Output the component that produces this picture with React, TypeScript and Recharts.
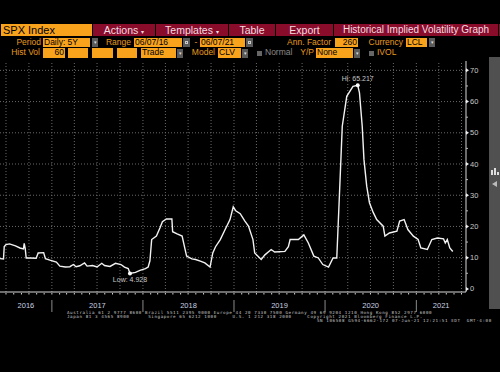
import React from 'react';
import { LineChart, Line, XAxis, YAxis, CartesianGrid, ReferenceDot, ReferenceLine } from 'recharts';

// ---- data ----
const dates = [
  '2016-06-07', '2016-06-21', '2016-06-24', '2016-07-01', '2016-07-15', '2016-08-08', '2016-08-26', '2016-09-09',
  '2016-09-12', '2016-09-16', '2016-09-20', '2016-10-05', '2016-10-30', '2016-11-07', '2016-11-29', '2016-12-06',
  '2016-12-24', '2017-01-19', '2017-02-02', '2017-02-24', '2017-03-14', '2017-03-28', '2017-04-08', '2017-04-23',
  '2017-05-12', '2017-05-22', '2017-06-13', '2017-07-01', '2017-07-20', '2017-07-31', '2017-08-22', '2017-09-13',
  '2017-10-05', '2017-10-19', '2017-11-03', '2017-11-10', '2017-12-02', '2017-12-20', '2018-01-11', '2018-01-22',
  '2018-01-29', '2018-02-05', '2018-02-24', '2018-03-10', '2018-03-20', '2018-04-05', '2018-04-27', '2018-04-30',
  '2018-05-18', '2018-06-07', '2018-06-18', '2018-06-25', '2018-07-16', '2018-07-31', '2018-08-19', '2018-09-06',
  '2018-09-27', '2018-10-08', '2018-10-19', '2018-11-07', '2018-11-25', '2018-12-16', '2018-12-29', '2019-01-08',
  '2019-01-26', '2019-02-13', '2019-02-28', '2019-03-18', '2019-03-25', '2019-04-20', '2019-05-05', '2019-05-30',
  '2019-06-13', '2019-07-24', '2019-08-07', '2019-08-14', '2019-09-16', '2019-10-08', '2019-10-26', '2019-11-17',
  '2019-12-05', '2019-12-23', '2020-01-15', '2020-02-02', '2020-02-17', '2020-02-28', '2020-03-10', '2020-03-28',
  '2020-04-22', '2020-05-11', '2020-05-18', '2020-05-29', '2020-06-05', '2020-06-16', '2020-06-27', '2020-07-12',
  '2020-07-26', '2020-08-21', '2020-08-28', '2020-09-15', '2020-10-15', '2020-10-26', '2020-11-13', '2020-11-28',
  '2020-12-20', '2021-01-08', '2021-01-19', '2021-02-14', '2021-03-04', '2021-03-26', '2021-04-20', '2021-04-27',
  '2021-05-05', '2021-05-15', '2021-05-27',
];
const vols = [
  9.7, 9.6, 13.6, 14.2, 14.4, 13.8, 13.1, 12.8,
  14.6, 13.0, 9.9, 9.9, 9.8, 11.5, 11.6, 9.7,
  9.2, 8.6, 7.3, 7.0, 7.1, 7.8, 7.1, 7.4,
  8.3, 7.3, 7.5, 7.0, 8.2, 7.5, 7.2, 8.2,
  7.8, 7.0, 6.5, 4.928, 5.3, 5.9, 6.5, 7.0,
  9.0, 15.8, 16.9, 19.5, 21.5, 22.4, 22.4, 18.3,
  17.6, 16.9, 13.0, 10.5, 9.6, 9.4, 8.9, 8.3,
  7.0, 11.5, 13.5, 15.8, 18.8, 22.2, 26.3, 25.0,
  24.1, 21.8, 20.1, 15.8, 11.5, 9.4, 10.9, 12.6,
  11.8, 12.0, 13.5, 15.8, 15.8, 17.3, 14.7, 10.5,
  9.9, 7.8, 7.0, 9.9, 9.9, 30.8, 52.1, 61.7,
  64.9, 65.217, 62.8, 52.1, 41.4, 32.9, 27.6, 24.5,
  22.2, 20.1, 16.9, 17.9, 18.5, 21.7, 22.2, 19.0,
  16.9, 15.8, 13.1, 12.6, 15.8, 16.3, 16.0, 14.7,
  15.8, 13.1, 12.0,
];
const yearLabels = ['2016', '2017', '2018', '2019', '2020', '2021'];
const yTicks = [0, 5, 10, 15, 20, 25, 30, 35, 40, 45, 50, 55, 60, 65, 70];
const gridValues = [10, 20, 30, 40, 50, 60, 70];
const hiDate = '2020-05-11';
const hiValue = 65.217;
const loDate = '2017-11-10';
const loValue = 4.928;
const rangeStart = '2016-06-07';
const rangeEnd = '2021-07-19';

// ---- derived ----
const ts = (d: string) => Date.parse(d + 'T00:00:00Z');
const data = dates.map((d, i) => ({ t: ts(d), v: vols[i] }));
const domainStart = ts(rangeStart);
const domainEnd = ts(rangeEnd);

const monthTicks: number[] = [];
const quarterTicks: number[] = [];
for (let y = 2016; y <= 2021; y++) {
  for (let m = 0; m < 12; m++) {
    const t = Date.UTC(y, m, 1);
    if (t > domainStart && t < domainEnd) {
      monthTicks.push(t);
      if (m % 3 === 0) quarterTicks.push(t);
    }
  }
}
const yearStarts = yearLabels.slice(1).map((y) => Date.UTC(Number(y), 0, 1));
const yearMids = yearLabels.map((y) => {
  const a = Math.max(Date.UTC(Number(y), 0, 1), domainStart);
  const b = Math.min(Date.UTC(Number(y) + 1, 0, 1), domainEnd);
  return Math.round((a + b) / 2) + 1;
});
const bottomTicks = [...monthTicks, ...yearMids].sort((a, b) => a - b);

const ORANGE = '#f9a31c';
const RED = '#8a0c2b';
const LABEL = '#e89a1c';
const FONT = '"Liberation Sans", Arial, sans-serif';
const GRID = '#6a6a6a';

function BottomTick(props: any) {
  const { x, y, payload } = props;
  const v = payload.value;
  if (yearMids.includes(v)) {
    const yr = new Date(v).getUTCFullYear();
    return (
      <text x={x} y={y + 15.5} textAnchor="middle" fill="#c8d0e0" fontSize={7.5} fontFamily={FONT}>
        {yr}
      </text>
    );
  }
  const isYear = yearStarts.includes(v);
  return (
    <g>
      <line x1={x} x2={x} y1={y + 1} y2={y + 2.5} stroke="#d0d0d0" strokeWidth={1} />
      {isYear && <line x1={x} x2={x} y1={y + 8} y2={y + 20} stroke="#8a8a8a" strokeWidth={1} />}
    </g>
  );
}

function VolTick(props: any) {
  const { x, y, payload } = props;
  const v = payload.value;
  if (v % 10 !== 0) {
    return <line x1={x} x2={x + 2} y1={y} y2={y} stroke="#bbb" strokeWidth={1} />;
  }
  return (
    <g>
      <polygon points={`${x},${y - 2} ${x + 3},${y} ${x},${y + 2}`} fill="#eee" />
      <text x={x + 4} y={y} dy={2.6} textAnchor="start" fill="#c8c8c8" fontSize={7.5} fontFamily={FONT}>
        {v}
      </text>
    </g>
  );
}

type BoxProps = {
  x: number; y: number; w: number; h: number; bg?: string; color?: string;
  size?: number; align?: 'left' | 'right' | 'center'; children?: React.ReactNode; pad?: number;
};
function Box({ x, y, w, h, bg = 'transparent', color = '#000', size = 9, align = 'left', children, pad = 1 }: BoxProps) {
  return (
    <div
      style={{
        position: 'absolute', left: x, top: y, width: w, height: h, background: bg, color,
        fontSize: size, lineHeight: h + 'px', textAlign: align, fontFamily: FONT,
        whiteSpace: 'nowrap', overflow: 'hidden', boxSizing: 'border-box',
        paddingLeft: pad, paddingRight: pad,
      }}
    >
      {children}
    </div>
  );
}

function Drop({ x, y, h = 9 }: { x: number; y: number; h?: number }) {
  return (
    <Box x={x} y={y} w={6} h={h} bg="#5a5a5a" color="#ddd" size={5} align="center" pad={0}>▾</Box>
  );
}
function Cal({ x, y }: { x: number; y: number }) {
  return (
    <div style={{ position: 'absolute', left: x, top: y, width: 7, height: 9, background: '#5a5a5a' }}>
      <div style={{ position: 'absolute', left: 2, top: 3, width: 3, height: 3, border: '1px solid #ccc', boxSizing: 'border-box' }} />
    </div>
  );
}
function Check({ x, y }: { x: number; y: number }) {
  return <div style={{ position: 'absolute', left: x, top: y, width: 5, height: 5, background: '#666' }} />;
}

function FootLine({ x, y, text }: { x: number; y: number; text: string }) {
  return (
    <div
      style={{
        position: 'absolute', left: x, top: y, fontFamily: '"DejaVu Sans Mono", monospace',
        fontSize: 4.2, letterSpacing: 0.6, lineHeight: '4.2px', height: 4.2, color: '#c8c8c8', whiteSpace: 'pre',
      }}
    >
      {text}
    </div>
  );
}

export default function App() {
  const r1 = 24, r2 = 37.5, r3 = 48;
  return (
    <div style={{ position: 'absolute', left: 0, top: 0, width: 500, height: 372, background: '#000', overflow: 'hidden' }}>
      {/* row 1 */}
      <Box x={1} y={r1} w={91} h={12} bg={ORANGE} size={11} pad={2}>SPX Index</Box>
      <div style={{ position: 'absolute', left: 93, top: r1, width: 407, height: 12, background: RED }} />
      <Box x={93} y={r1} w={62} h={12} color="#f2dde2" size={10.5} align="center">Actions <span style={{ fontSize: 6 }}>▾</span></Box>
      <Box x={156} y={r1} w={72} h={12} color="#f2dde2" size={10.5} align="center">Templates <span style={{ fontSize: 6 }}>▾</span></Box>
      <Box x={229} y={r1} w={46} h={12} color="#f2dde2" size={10.5} align="center">Table</Box>
      <Box x={276} y={r1} w={57} h={12} color="#f2dde2" size={10.5} align="center">Export</Box>
      <Box x={334} y={r1} w={164} h={12} color="#f2dde2" size={10} align="center">Historical Implied Volatility Graph</Box>
      {[155, 228, 275, 333, 498].map((lx) => (
        <div key={lx} style={{ position: 'absolute', left: lx, top: r1, width: 1, height: 12, background: '#000' }} />
      ))}

      {/* row 2 */}
      <Box x={10} y={r2} w={32} h={9.5} color={LABEL} size={8.5} align="right">Period</Box>
      <Box x={43} y={r2} w={47} h={9.5} bg={ORANGE} size={8.5}>Daily: 5Y</Box>
      <Drop x={92} y={r2 + 0.5} />
      <Box x={104} y={r2} w={28} h={9.5} color={LABEL} size={8.5} align="right">Range</Box>
      <Box x={134} y={r2} w={48} h={9.5} bg={ORANGE} size={8.5}>06/07/16</Box>
      <Cal x={183} y={r2 + 0.5} />
      <Box x={193} y={r2} w={6} h={9.5} color={LABEL} size={8.5} align="center">-</Box>
      <Box x={200} y={r2} w={45} h={9.5} bg={ORANGE} size={8.5}>06/07/21</Box>
      <Cal x={246} y={r2 + 0.5} />
      <Box x={280} y={r2} w={52} h={9.5} color={LABEL} size={8.5} align="right">Ann. Factor</Box>
      <Box x={335} y={r2} w={23} h={9.5} bg={ORANGE} size={8.5} align="right">260</Box>
      <Box x={360} y={r2} w={44} h={9.5} color={LABEL} size={8.5} align="right">Currency</Box>
      <Box x={406} y={r2} w={21} h={9.5} bg={ORANGE} size={8.5}>LCL</Box>
      <Drop x={429} y={r2 + 0.5} />

      {/* row 3 */}
      <Box x={6} y={r3} w={35} h={9.5} color={LABEL} size={8.5} align="right">Hist Vol</Box>
      <Box x={43} y={r3} w={22} h={9.5} bg={ORANGE} size={8.5} align="right">60</Box>
      <Box x={68} y={r3} w={20} h={9.5} bg={ORANGE} />
      <Box x={92} y={r3} w={21} h={9.5} bg={ORANGE} />
      <Box x={117} y={r3} w={20} h={9.5} bg={ORANGE} />
      <Box x={141} y={r3} w={35} h={9.5} bg={ORANGE} size={8.5}>Trade</Box>
      <Drop x={177} y={r3 + 0.5} />
      <Box x={190} y={r3} w={26} h={9.5} color={LABEL} size={8.5} align="right">Model</Box>
      <Box x={218} y={r3} w={23} h={9.5} bg={ORANGE} size={8.5}>CLV</Box>
      <Drop x={242} y={r3 + 0.5} />
      <Check x={257} y={r3 + 2.5} />
      <Box x={264} y={r3} w={32} h={9.5} color="#8a8a8a" size={8.5}>Normal</Box>
      <Box x={296} y={r3} w={19} h={9.5} color={LABEL} size={8.5} align="right">Y/P</Box>
      <Box x={316} y={r3} w={37} h={9.5} bg={ORANGE} size={8.5}>None</Box>
      <Drop x={354} y={r3 + 0.5} />
      <Check x={369} y={r3 + 2.5} />
      <Box x={376} y={r3} w={24} h={9.5} color={LABEL} size={8.5}>IVOL</Box>

      {/* right scroll panel */}
      <div style={{ position: 'absolute', left: 489, top: 57, width: 11, height: 252, background: '#505050' }} />
      <div style={{ position: 'absolute', left: 491, top: 170, width: 2, height: 5, background: '#ddd' }} />
      <div style={{ position: 'absolute', left: 494, top: 168, width: 2, height: 7, background: '#ddd' }} />
      <div style={{ position: 'absolute', left: 497, top: 172, width: 2, height: 3, background: '#ddd' }} />
      <div style={{ position: 'absolute', left: 492, top: 181, width: 0, height: 0, borderTop: '3px solid transparent', borderBottom: '3px solid transparent', borderRight: '5px solid #bbb' }} />

      {/* chart */}
      <div style={{ position: 'absolute', left: 0, top: 56 }}>
        <LineChart width={500} height={262} data={data} margin={{ top: 5, right: 4, bottom: 0, left: 0 }}>
          <CartesianGrid
            xAxisId="b"
            yAxisId="v"
            stroke={GRID}
            strokeDasharray="1 2"
            vertical={false}
            horizontalValues={gridValues}
          />
          <XAxis
            xAxisId="b"
            dataKey="t"
            type="number"
            domain={[domainStart, domainEnd]}
            allowDataOverflow
            ticks={bottomTicks}
            interval={0}
            tick={<BottomTick />}
            tickSize={0}
            tickMargin={0}
            tickLine={false}
            axisLine={{ stroke: '#d8d8d8', strokeWidth: 1.2 }}
            height={26}
          />
          <YAxis
            yAxisId="v"
            orientation="right"
            domain={[-1, 73]}
            allowDataOverflow
            ticks={yTicks}
            interval={0}
            width={30}
            tickSize={0}
            tickMargin={0}
            tickLine={false}
            tick={<VolTick />}
            axisLine={{ stroke: '#d8d8d8' }}
          />
          {quarterTicks.map((t) => (
            <ReferenceLine
              key={t}
              xAxisId="b"
              yAxisId="v"
              x={t}
              stroke={GRID}
              strokeDasharray="1 2"
            />
          ))}
          <Line
            xAxisId="b"
            yAxisId="v"
            type="linear"
            dataKey="v"
            stroke="#f2f2f2"
            strokeWidth={1.4}
            dot={false}
            isAnimationActive={false}
          />
          <ReferenceDot
            xAxisId="b"
            yAxisId="v"
            x={ts(hiDate)}
            y={hiValue}
            r={2}
            fill="#fff"
            stroke="none"
            label={{ value: `Hi: ${hiValue}`, position: 'top', fill: '#c8c8c8', fontSize: 7, fontFamily: FONT, offset: 2 }}
          />
          <ReferenceDot
            xAxisId="b"
            yAxisId="v"
            x={ts(loDate)}
            y={loValue}
            r={2}
            fill="#fff"
            stroke="none"
            label={{ value: `Low: ${loValue}`, position: 'bottom', fill: '#c8c8c8', fontSize: 7, fontFamily: FONT, offset: 2 }}
          />
        </LineChart>
      </div>

      {/* footer */}
      <FootLine x={67} y={310.5} text="Australia 61 2 9777 8600 Brazil 5511 2395 9000 Europe 44 20 7330 7500 Germany 49 69 9204 1210 Hong Kong 852 2977 6000" />
      <FootLine x={67} y={314.7} text="Japan 81 3 4565 8900      Singapore 65 6212 1000     U.S. 1 212 318 2000     Copyright 2021 Bloomberg Finance L.P." />
      <FootLine x={317} y={318.9} text="SN 106508 G594-6662-172 07-Jun-21 12:21:51 EDT  GMT-4:00" />
    </div>
  );
}
